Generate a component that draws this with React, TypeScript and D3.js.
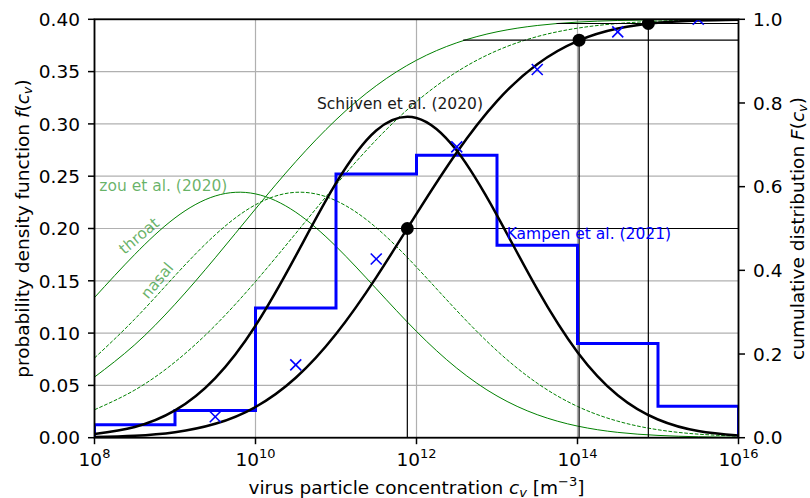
import React from "react";
import * as d3 from "d3";

// ---- data (log10 of concentration on x) ----
const sampleLogX = [8, 8.5, 9, 9.5, 10, 10.5, 11, 11.5, 12, 12.5, 13, 13.5, 14, 14.5, 15, 15.5, 16];
const schijvenPdf = [0.0035, 0.0103, 0.0261, 0.057, 0.1071, 0.1738, 0.2433, 0.2937, 0.3057, 0.2745, 0.2126, 0.142, 0.0818, 0.0406, 0.0174, 0.0064, 0.0021];
const schijvenCdf = [0.0014, 0.0046, 0.0132, 0.0332, 0.0734, 0.1432, 0.2478, 0.3833, 0.5349, 0.6816, 0.8043, 0.8928, 0.948, 0.9778, 0.9917, 0.9973, 0.9992];
const throatPdf = [0.134, 0.1752, 0.2101, 0.2311, 0.2331, 0.2156, 0.1829, 0.1424, 0.1016, 0.0665, 0.0399, 0.022, 0.0111, 0.0051, 0.0022, 0.0009, 0.0003];
const throatCdf = [0.1449, 0.2222, 0.319, 0.43, 0.5468, 0.6598, 0.7599, 0.8413, 0.9022, 0.9439, 0.9701, 0.9852, 0.9933, 0.9972, 0.9989, 0.9996, 0.9999];
const nasalPdf = [0.0762, 0.1134, 0.1549, 0.194, 0.2227, 0.2346, 0.2266, 0.2008, 0.1631, 0.1215, 0.0831, 0.0521, 0.0299, 0.0158, 0.0076, 0.0034, 0.0014];
const nasalCdf = [0.0668, 0.1139, 0.1809, 0.2684, 0.3732, 0.4883, 0.6044, 0.7119, 0.8032, 0.8743, 0.9252, 0.9587, 0.9788, 0.9899, 0.9956, 0.9982, 0.9993];

const kampenBinEdges = [8, 9, 10, 11, 12, 13, 14, 15, 16];
const kampenPdf = [0.0125, 0.026, 0.124, 0.252, 0.27, 0.184, 0.09, 0.03];
const kampenCdfX = [9.5, 10.5, 11.5, 12.5, 13.5, 14.5, 15.5];
const kampenCdf = [0.05, 0.174, 0.427, 0.695, 0.88, 0.97, 1.0];

const quantileLevels = [0.5, 0.95, 0.99];
const schijvenQuantileX = [11.886, 14.02, 14.88];
const throatQuantileX = [9.79, 12.58, 13.74];

const xTickExps = [8, 10, 12, 14, 16];
const leftTicks = [0, 0.05, 0.1, 0.15, 0.2, 0.25, 0.3, 0.35, 0.4];
const rightTicks = [0, 0.2, 0.4, 0.6, 0.8, 1.0];

// ---- layout ----
const W = 810, H = 498;
const L = 94.5, R = 738.5, T = 19.3, B = 437.7;
const FONT = "DejaVu Sans";
const FS = 18.5;
const FS_SMALL = 15.5;

export default function App() {
  const x = d3.scaleLog().domain([1e8, 1e16]).range([L, R]);
  const yL = d3.scaleLinear().domain([0, 0.4]).range([B, T]);
  const yR = d3.scaleLinear().domain([0, 1]).range([B, T]);
  const X = (lg: number) => x(Math.pow(10, lg));

  const pdfLine = d3
    .line<[number, number]>()
    .x((d) => X(d[0]))
    .y((d) => yL(d[1]))
    .curve(d3.curveNatural);
  const cdfLine = d3
    .line<[number, number]>()
    .x((d) => X(d[0]))
    .y((d) => yR(d[1]))
    .curve(d3.curveNatural);
  const zip = (vals: number[]) => sampleLogX.map((v, i) => [v, vals[i]] as [number, number]);

  const stepPts: [number, number][] = [[kampenBinEdges[0], 0]];
  kampenPdf.forEach((v, i) => {
    stepPts.push([kampenBinEdges[i], v]);
    stepPts.push([kampenBinEdges[i + 1], v]);
  });
  stepPts.push([kampenBinEdges[kampenBinEdges.length - 1], 0]);
  const stepLine = d3
    .line<[number, number]>()
    .x((d) => X(d[0]))
    .y((d) => yL(d[1]));

  const green = "#008000";
  const dash = "3.7,1.6";

  return (
    <svg
      width={W}
      height={H}
      style={{ position: "absolute", left: 0, top: 0, background: "#fff" }}
      fontFamily={FONT}
    >
      <defs>
        <clipPath id="plotClip">
          <rect x={L} y={T} width={R - L} height={B - T} />
        </clipPath>
      </defs>
      <rect x={0} y={0} width={W} height={H} fill="#fff" />

      {/* grid */}
      <g stroke="#b0b0b0" strokeWidth={1.2}>
        {xTickExps.map((e) => (
          <line key={"gx" + e} x1={X(e)} x2={X(e)} y1={T} y2={B} />
        ))}
        {leftTicks.map((t) => (
          <line key={"gy" + t} x1={L} x2={R} y1={yL(t)} y2={yL(t)} />
        ))}
      </g>

      <g clipPath="url(#plotClip)">
        {/* zou et al. curves */}
        <path d={pdfLine(zip(throatPdf)) || ""} fill="none" stroke={green} strokeWidth={1} />
        <path d={cdfLine(zip(throatCdf)) || ""} fill="none" stroke={green} strokeWidth={1} />
        <path d={pdfLine(zip(nasalPdf)) || ""} fill="none" stroke={green} strokeWidth={1} strokeDasharray={dash} />
        <path d={cdfLine(zip(nasalCdf)) || ""} fill="none" stroke={green} strokeWidth={1} strokeDasharray={dash} />

        {/* quantile reference lines */}
        <g stroke="#000" strokeWidth={1.2}>
          {quantileLevels.map((q, i) => (
            <line key={"h" + q} x1={X(throatQuantileX[i])} x2={R} y1={yR(q)} y2={yR(q)} />
          ))}
          {quantileLevels.map((q, i) => (
            <line key={"v" + q} x1={X(schijvenQuantileX[i])} x2={X(schijvenQuantileX[i])} y1={B} y2={yR(q)} />
          ))}
        </g>

        {/* Kampen histogram */}
        <path d={stepLine(stepPts) || ""} fill="none" stroke="#0000ff" strokeWidth={3} strokeLinejoin="miter" />

        {/* Schijven curves */}
        <path d={pdfLine(zip(schijvenPdf)) || ""} fill="none" stroke="#000" strokeWidth={2.5} />
        <path d={cdfLine(zip(schijvenCdf)) || ""} fill="none" stroke="#000" strokeWidth={2.5} />

        {/* Kampen cumulative markers */}
        <g stroke="#0000ff" strokeWidth={1.6}>
          {kampenCdfX.map((lx, i) => {
            const cx = X(lx);
            const cy = yR(kampenCdf[i]);
            const s = 5.5;
            return (
              <g key={"m" + i}>
                <line x1={cx - s} y1={cy - s} x2={cx + s} y2={cy + s} />
                <line x1={cx - s} y1={cy + s} x2={cx + s} y2={cy - s} />
              </g>
            );
          })}
        </g>

        {/* quantile dots */}
        {quantileLevels.map((q, i) => (
          <circle key={"d" + q} cx={X(schijvenQuantileX[i])} cy={yR(q)} r={6.5} fill="#000" />
        ))}
      </g>

      {/* annotations */}
      <text x={317} y={108.7} fontSize={FS_SMALL} fill="#1a1a1a">
        Schijven et al. (2020)
      </text>
      <text x={99.3} y={190.5} fontSize={FS_SMALL} fill={green} fillOpacity={0.6}>
        zou et al. (2020)
      </text>
      <text
        transform="translate(139.3,236) rotate(-40)"
        textAnchor="middle"
        dominantBaseline="central"
        fontSize={FS_SMALL}
        fill={green}
        fillOpacity={0.6}
      >
        throat
      </text>
      <text
        transform="translate(157.3,280.7) rotate(-50)"
        textAnchor="middle"
        dominantBaseline="central"
        fontSize={FS_SMALL}
        fill={green}
        fillOpacity={0.6}
      >
        nasal
      </text>
      <text x={506.7} y={238.5} fontSize={FS_SMALL} fill="#0000ff">
        Kampen et al. (2021)
      </text>

      {/* spines */}
      <rect x={L} y={T} width={R - L} height={B - T} fill="none" stroke="#000" strokeWidth={1.8} />

      {/* bottom ticks */}
      <g>
        {xTickExps.map((e) => (
          <g key={"xt" + e}>
            <line x1={X(e)} x2={X(e)} y1={B} y2={B + 6.5} stroke="#000" strokeWidth={1.5} />
            <text x={X(e)} y={466} textAnchor="middle" fontSize={FS} fill="#000">
              10
              <tspan fontSize={13} dy={-8}>
                {String(e)}
              </tspan>
            </text>
          </g>
        ))}
      </g>

      {/* left ticks */}
      <g>
        {leftTicks.map((t) => (
          <g key={"yl" + t}>
            <line x1={L - 6.5} x2={L} y1={yL(t)} y2={yL(t)} stroke="#000" strokeWidth={1.5} />
            <text x={80} y={yL(t) + 6.7} textAnchor="end" fontSize={FS} fill="#000">
              {t.toFixed(2)}
            </text>
          </g>
        ))}
      </g>

      {/* right ticks */}
      <g>
        {rightTicks.map((t) => (
          <g key={"yr" + t}>
            <line x1={R} x2={R + 6.5} y1={yR(t)} y2={yR(t)} stroke="#000" strokeWidth={1.5} />
            <text x={753} y={yR(t) + 6.7} textAnchor="start" fontSize={FS} fill="#000">
              {t.toFixed(1)}
            </text>
          </g>
        ))}
      </g>

      {/* axis labels */}
      <text x={(L + R) / 2} y={493.5} textAnchor="middle" fontSize={FS} fill="#000">
        virus particle concentration{" "}
        <tspan fontStyle="italic">c</tspan>
        <tspan fontStyle="italic" fontSize={13} dy={3}>
          v
        </tspan>
        <tspan dy={-3}> [m</tspan>
        <tspan fontSize={13} dy={-8}>
          −3
        </tspan>
        <tspan dy={8}>]</tspan>
      </text>

      <text
        transform={`translate(28.5,${(T + B) / 2}) rotate(-90)`}
        textAnchor="middle"
        fontSize={FS}
        fill="#000"
      >
        probability density function{" "}
        <tspan fontStyle="italic">f</tspan>
        <tspan>(</tspan>
        <tspan fontStyle="italic">c</tspan>
        <tspan fontStyle="italic" fontSize={13} dy={3}>
          v
        </tspan>
        <tspan dy={-3}>)</tspan>
      </text>

      <text
        transform={`translate(804,${(T + B) / 2}) rotate(-90)`}
        textAnchor="middle"
        fontSize={FS}
        fill="#000"
      >
        cumulative distribution{" "}
        <tspan fontStyle="italic">F</tspan>
        <tspan>(</tspan>
        <tspan fontStyle="italic">c</tspan>
        <tspan fontStyle="italic" fontSize={13} dy={3}>
          v
        </tspan>
        <tspan dy={-3}>)</tspan>
      </text>
    </svg>
  );
}
